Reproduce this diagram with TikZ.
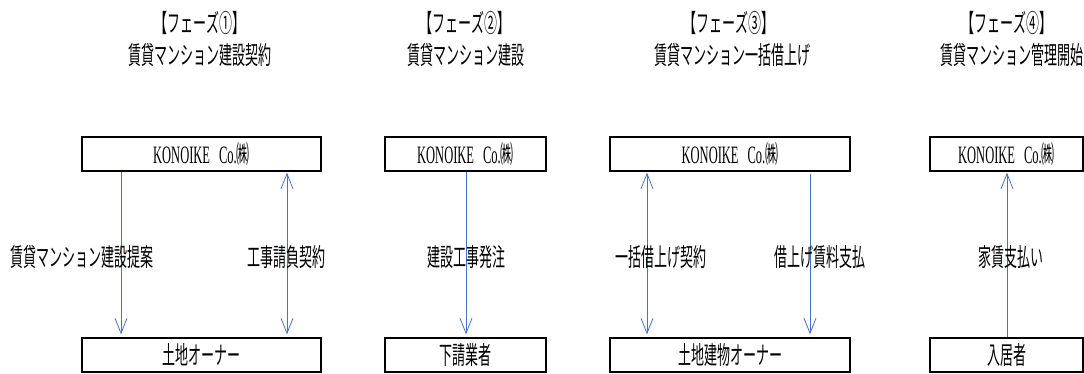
\documentclass[tikz,border=0pt]{standalone}
\usepackage{fontspec}
\setmainfont[FakeStretch=0.5]{Liberation Serif}
\newfontfamily\jp[FakeStretch=0.52]{Noto Sans CJK JP}
\usetikzlibrary{arrows.meta}
\definecolor{arrowblue}{RGB}{68,114,196}
\newcommand{\konoike}{\fontsize{25}{29}\selectfont KONOIKE\hspace{9pt}Co.{\jp ㈱}}
\tikzset{
    box/.style = {draw, line width = 1.4pt, minimum width = #1, minimum height = 34pt, inner sep = 0pt},
    arr/.style = {draw = arrowblue, line width = 0.8pt, -{Straight Barb[length = 15pt, width = 12pt]}},
    dblarr/.style = {arr, {Straight Barb[length = 15pt, width = 12pt]}-{Straight Barb[length = 15pt, width = 12pt]}},
    txt/.style = {inner sep = 0pt, font = \fontsize{25}{29}\selectfont\jp}
}
\begin{document}
\begin{tikzpicture}[x = 1pt, y = -1pt]
    \useasboundingbox (0, 0) rectangle (1084, 374);

    % phase headers
    \node[txt] (h1) at (200, 23) {【フェーズ①】};
    \node[txt] (t1) at (200, 55) {賃貸マンション建設契約};
    \node[txt] (h2) at (465, 23) {【フェーズ②】};
    \node[txt] (t2) at (466, 55) {賃貸マンション建設};
    \node[txt] (h3) at (729, 23) {【フェーズ③】};
    \node[txt] (t3) at (732, 55) {賃貸マンション一括借上げ};
    \node[txt] (h4) at (1007, 23) {【フェーズ④】};
    \node[txt] (t4) at (1012, 55) {賃貸マンション管理開始};

    % upper boxes
    \node[box = 239pt] (k1) at (201.5, 154) {\konoike};
    \node[box = 161pt] (k2) at (465.5, 154) {\konoike};
    \node[box = 240pt] (k3) at (730, 154) {\konoike};
    \node[box = 153pt] (k4) at (1006.5, 154) {\konoike};

    % lower boxes
    \node[box = 239pt, txt, inner sep = 0pt] (o1) at (201.5, 355) {土地オーナー};
    \node[box = 161pt, txt, inner sep = 0pt] (o2) at (465.5, 355) {下請業者};
    \node[box = 240pt, txt, inner sep = 0pt] (o3) at (730, 355) {土地建物オーナー};
    \node[box = 153pt, txt, inner sep = 0pt] (o4) at (1006.5, 355) {入居者};

    % connectors
    \draw[arr, shorten > = 3pt] ([xshift = -80.5pt]k1.south) -- ([xshift = -80.5pt]o1.north);
    \draw[dblarr, shorten < = 1pt, shorten > = 3pt] ([xshift = 85.5pt]k1.south) -- ([xshift = 85.5pt]o1.north);
    \draw[arr, shorten > = 3pt] ([xshift = 0.5pt]k2.south) -- ([xshift = 0.5pt]o2.north);
    \draw[dblarr, shorten < = 1pt, shorten > = 3pt] ([xshift = -83pt]k3.south) -- ([xshift = -83pt]o3.north);
    \draw[arr, shorten < = 2pt, shorten > = 3pt] ([xshift = 80pt]k3.south) -- ([xshift = 80pt]o3.north);
    \draw[arr, shorten > = 1pt] ([xshift = 0.5pt]o4.north) -- ([xshift = 0.5pt]k4.south);

    % connector labels
    \node[txt] (l1) at (82, 257) {賃貸マンション建設提案};
    \node[txt] (l2) at (286, 257) {工事請負契約};
    \node[txt] (l3) at (466, 257) {建設工事発注};
    \node[txt] (l4) at (661, 257) {一括借上げ契約};
    \node[txt] (l5) at (820, 257) {借上げ賃料支払};
    \node[txt] (l6) at (1011, 257) {家賃支払い};
\end{tikzpicture}
\end{document}
